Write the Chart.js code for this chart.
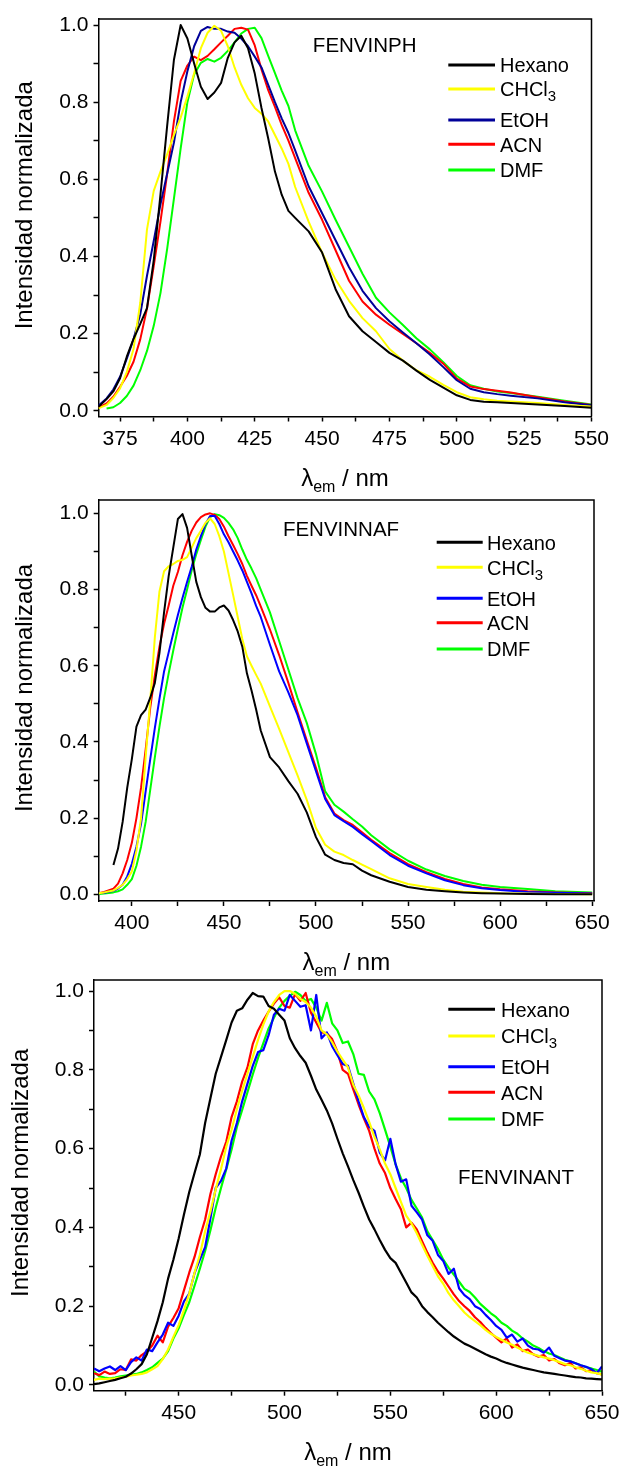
<!DOCTYPE html>
<html>
<head>
<meta charset="utf-8">
<script src="https://cdn.jsdelivr.net/npm/chart.js@4.4.1/dist/chart.umd.min.js"></script>
<style>
  html, body { margin: 0; padding: 0; background: #fff; }
  body { width: 621px; height: 1471px; position: relative; overflow: hidden; }
  canvas { position: absolute; left: 0; }
</style>
</head>
<body>
<canvas id="p1" width="621" height="500" style="top:0px"></canvas>
<canvas id="p2" width="621" height="490" style="top:490px"></canvas>
<canvas id="p3" width="621" height="496" style="top:975px"></canvas>
<script>
// ── Data ──────────────────────────────────────────────────────
const solvents  = ['Hexano', 'CHCl₃', 'EtOH', 'ACN', 'DMF'];
const compounds = ['FENVINPH', 'FENVINNAF', 'FENVINANT'];

const yMajor  = [0, 0.2, 0.4, 0.6, 0.8, 1.0];
const xMajor1 = [375, 400, 425, 450, 475, 500, 525, 550];
const xMajor2 = [400, 450, 500, 550, 600, 650];
const xMajor3 = [450, 500, 550, 600, 650];

// FENVINPH
const wl1 = [367, 370, 372.5, 375, 377.5, 380, 382.5, 385, 387.5, 390,
  392.5, 395, 397.5, 400, 402.5, 405, 407.5, 410, 412.5, 415,
  417.5, 420, 422.5, 425, 427.5, 430, 432.5, 435, 437.5, 440,
  445, 450, 455, 460, 465, 470, 475, 480, 485, 490,
  495, 500, 505, 510, 515, 520, 530, 540, 550];
const hex1 = [0.010, 0.030, 0.050, 0.084, 0.140, 0.186, 0.225, 0.266, 0.390, 0.560,
  0.740, 0.910, 1.000, 0.965, 0.900, 0.840, 0.808, 0.825, 0.850, 0.915,
  0.955, 0.972, 0.940, 0.874, 0.785, 0.706, 0.620, 0.560, 0.518, 0.500,
  0.465, 0.410, 0.315, 0.245, 0.206, 0.178, 0.150, 0.130, 0.104, 0.080,
  0.060, 0.040, 0.028, 0.023, 0.022, 0.020, 0.016, 0.012, 0.008];
const chcl1 = [0.006, 0.015, 0.033, 0.058, 0.100, 0.160, 0.280, 0.470, 0.570, 0.620,
  0.665, 0.715, 0.760, 0.815, 0.875, 0.940, 0.980, 0.998, 0.985, 0.945,
  0.890, 0.845, 0.810, 0.785, 0.770, 0.750, 0.715, 0.680, 0.640, 0.580,
  0.490, 0.410, 0.340, 0.285, 0.240, 0.206, 0.160, 0.130, 0.105, 0.088,
  0.067, 0.048, 0.035, 0.030, 0.026, 0.024, 0.020, 0.015, 0.011];
const etoh1 = [0.013, 0.032, 0.055, 0.088, 0.135, 0.185, 0.250, 0.350, 0.440, 0.535,
  0.615, 0.695, 0.800, 0.880, 0.945, 0.985, 0.995, 0.990, 0.990, 0.983,
  0.980, 0.965, 0.945, 0.918, 0.890, 0.845, 0.800, 0.758, 0.720, 0.675,
  0.582, 0.512, 0.442, 0.372, 0.311, 0.266, 0.232, 0.203, 0.175, 0.146,
  0.113, 0.079, 0.057, 0.048, 0.043, 0.039, 0.032, 0.022, 0.014];
const acn1 = [0.008, 0.019, 0.036, 0.062, 0.090, 0.127, 0.185, 0.265, 0.375, 0.490,
  0.615, 0.750, 0.855, 0.895, 0.918, 0.909, 0.920, 0.937, 0.955, 0.972,
  0.990, 0.993, 0.988, 0.947, 0.885, 0.831, 0.788, 0.741, 0.700, 0.655,
  0.565, 0.495, 0.416, 0.337, 0.283, 0.249, 0.223, 0.199, 0.175, 0.150,
  0.122, 0.083, 0.063, 0.056, 0.052, 0.047, 0.035, 0.024, 0.015];
const dmf1 = [null, 0.006, 0.009, 0.020, 0.038, 0.065, 0.105, 0.155, 0.220, 0.305,
  0.420, 0.550, 0.680, 0.800, 0.872, 0.902, 0.912, 0.905, 0.915, 0.933,
  0.955, 0.978, 0.990, 0.993, 0.966, 0.920, 0.875, 0.830, 0.790, 0.727,
  0.635, 0.568, 0.495, 0.425, 0.355, 0.293, 0.255, 0.222, 0.188, 0.159,
  0.126, 0.090, 0.066, 0.057, 0.050, 0.046, 0.036, 0.026, 0.016];

// FENVINNAF
const wl2 = [382, 385, 390, 392.5, 395, 397.5, 400, 402.5, 405, 407.5,
  410, 412.5, 415, 417.5, 420, 422.5, 425, 427.5, 430, 432.5,
  435, 437.5, 440, 442.5, 445, 447.5, 450, 452.5, 455, 457.5,
  460, 462.5, 465, 467.5, 470, 475, 480, 485, 490, 495,
  500, 505, 510, 515, 520, 525, 530, 540, 550, 560,
  570, 580, 590, 600, 615, 630, 650];
const hex2 = [null, null, 0.077, 0.120, 0.190, 0.280, 0.355, 0.440, 0.470, 0.485,
  0.516, 0.555, 0.634, 0.740, 0.835, 0.910, 0.985, 0.998, 0.962, 0.890,
  0.820, 0.780, 0.752, 0.742, 0.742, 0.753, 0.758, 0.745, 0.720, 0.690,
  0.650, 0.580, 0.535, 0.485, 0.430, 0.360, 0.333, 0.297, 0.264, 0.215,
  0.150, 0.104, 0.090, 0.082, 0.079, 0.062, 0.050, 0.033, 0.019, 0.012,
  0.008, 0.005, 0.003, 0.002, 0.001, 0.000, 0.000];
const chcl2 = [0.003, 0.005, 0.010, 0.017, 0.025, 0.040, 0.060, 0.115, 0.200, 0.360,
  0.510, 0.675, 0.795, 0.848, 0.861, 0.867, 0.875, 0.878, 0.885, 0.910,
  0.935, 0.954, 0.975, 0.987, 0.972, 0.940, 0.900, 0.843, 0.786, 0.728,
  0.670, 0.625, 0.600, 0.576, 0.553, 0.493, 0.434, 0.373, 0.312, 0.248,
  0.174, 0.130, 0.112, 0.103, 0.090, 0.078, 0.066, 0.042, 0.027, 0.019,
  0.012, 0.007, 0.005, 0.003, 0.002, 0.001, 0.000];
const etoh2 = [0.003, 0.004, 0.009, 0.015, 0.025, 0.047, 0.080, 0.125, 0.185, 0.270,
  0.355, 0.437, 0.513, 0.585, 0.635, 0.685, 0.733, 0.778, 0.820, 0.860,
  0.905, 0.940, 0.972, 0.993, 0.993, 0.972, 0.945, 0.924, 0.900, 0.876,
  0.850, 0.820, 0.790, 0.757, 0.728, 0.655, 0.585, 0.530, 0.470, 0.396,
  0.323, 0.250, 0.208, 0.192, 0.177, 0.158, 0.140, 0.103, 0.075, 0.055,
  0.037, 0.024, 0.016, 0.011, 0.006, 0.004, 0.002];
const acn2 = [0.003, 0.006, 0.015, 0.028, 0.055, 0.090, 0.135, 0.200, 0.280, 0.380,
  0.490, 0.575, 0.650, 0.710, 0.758, 0.810, 0.846, 0.890, 0.925, 0.954,
  0.976, 0.990, 0.997, 1.000, 0.996, 0.985, 0.965, 0.940, 0.917, 0.893,
  0.867, 0.836, 0.810, 0.785, 0.756, 0.695, 0.628, 0.555, 0.478, 0.404,
  0.332, 0.255, 0.212, 0.195, 0.182, 0.163, 0.143, 0.108, 0.079, 0.058,
  0.040, 0.027, 0.018, 0.013, 0.008, 0.005, 0.003];
const dmf2 = [0.001, 0.002, 0.005, 0.008, 0.013, 0.025, 0.040, 0.075, 0.125, 0.190,
  0.275, 0.360, 0.440, 0.515, 0.580, 0.640, 0.697, 0.752, 0.800, 0.850,
  0.893, 0.930, 0.965, 0.990, 0.998, 0.995, 0.988, 0.975, 0.958, 0.935,
  0.905, 0.878, 0.855, 0.830, 0.800, 0.740, 0.665, 0.590, 0.515, 0.450,
  0.368, 0.270, 0.235, 0.217, 0.197, 0.178, 0.155, 0.118, 0.088, 0.065,
  0.048, 0.035, 0.025, 0.019, 0.014, 0.008, 0.005];

// FENVINANT
const wl3 = [410, 412.5, 415, 417.5, 420, 422.5, 425, 427.5, 430, 432.5,
  435, 437.5, 440, 442.5, 445, 447.5, 450, 452.5, 455, 457.5,
  460, 462.5, 465, 467.5, 470, 472.5, 475, 477.5, 480, 482.5,
  485, 487.5, 490, 492.5, 495, 497.5, 500, 502.5, 505, 507.5,
  510, 512.5, 515, 517.5, 520, 522.5, 525, 527.5, 530, 532.5,
  535, 537.5, 540, 542.5, 545, 547.5, 550, 552.5, 555, 557.5,
  560, 562.5, 565, 567.5, 570, 572.5, 575, 577.5, 580, 582.5,
  585, 587.5, 590, 592.5, 595, 597.5, 600, 602.5, 605, 607.5,
  610, 612.5, 615, 617.5, 620, 622.5, 625, 627.5, 630, 632.5,
  635, 637.5, 640, 642.5, 645, 647.5, 650];
const hex3 = [0.002, 0.004, 0.007, 0.010, 0.013, 0.017, 0.021, 0.029, 0.040, 0.053,
  0.078, 0.120, 0.162, 0.210, 0.270, 0.318, 0.372, 0.433, 0.490, 0.538,
  0.585, 0.665, 0.728, 0.790, 0.833, 0.876, 0.920, 0.950, 0.956, 0.978,
  0.995, 0.987, 0.986, 0.962, 0.955, 0.940, 0.925, 0.880, 0.855, 0.835,
  0.818, 0.785, 0.750, 0.724, 0.697, 0.664, 0.625, 0.588, 0.555, 0.520,
  0.488, 0.453, 0.420, 0.395, 0.368, 0.343, 0.322, 0.310, 0.285, 0.260,
  0.235, 0.222, 0.200, 0.185, 0.172, 0.158, 0.146, 0.134, 0.123, 0.114,
  0.105, 0.099, 0.092, 0.085, 0.078, 0.072, 0.067, 0.061, 0.056, 0.052,
  0.048, 0.044, 0.041, 0.038, 0.035, 0.032, 0.030, 0.028, 0.026, 0.024,
  0.022, 0.020, 0.019, 0.017, 0.016, 0.015, 0.014];
const chcl3 = [0.013, 0.016, 0.015, 0.016, 0.017, 0.019, 0.021, 0.024, 0.026, 0.028,
  0.032, 0.040, 0.048, 0.066, 0.090, 0.122, 0.152, 0.190, 0.232, 0.285,
  0.330, 0.390, 0.440, 0.497, 0.548, 0.605, 0.648, 0.700, 0.747, 0.790,
  0.833, 0.876, 0.915, 0.948, 0.972, 0.990, 1.000, 1.000, 0.993, 0.980,
  0.972, 0.958, 0.935, 0.900, 0.890, 0.870, 0.846, 0.826, 0.806, 0.762,
  0.735, 0.703, 0.668, 0.630, 0.598, 0.562, 0.535, 0.500, 0.465, 0.430,
  0.410, 0.385, 0.356, 0.328, 0.302, 0.276, 0.257, 0.233, 0.215, 0.200,
  0.184, 0.172, 0.162, 0.152, 0.140, 0.130, 0.122, 0.115, 0.108, 0.102,
  0.095, 0.088, 0.082, 0.078, 0.074, 0.070, 0.067, 0.063, 0.058, 0.053,
  0.050, 0.045, 0.041, 0.036, 0.032, 0.030, 0.026];
const etoh3 = [0.042, 0.035, 0.042, 0.047, 0.038, 0.048, 0.038, 0.058, 0.070, 0.062,
  0.090, 0.086, 0.108, 0.128, 0.158, 0.150, 0.176, 0.212, 0.232, 0.284,
  0.318, 0.350, 0.423, 0.500, 0.518, 0.550, 0.620, 0.665, 0.720, 0.765,
  0.810, 0.845, 0.850, 0.888, 0.940, 0.955, 0.950, 0.990, 0.975, 0.960,
  0.964, 0.900, 0.990, 0.880, 0.895, 0.860, 0.837, 0.815, 0.810, 0.765,
  0.720, 0.680, 0.655, 0.645, 0.590, 0.570, 0.625, 0.560, 0.516, 0.522,
  0.455, 0.438, 0.420, 0.380, 0.366, 0.330, 0.315, 0.282, 0.295, 0.245,
  0.228, 0.218, 0.200, 0.193, 0.178, 0.165, 0.150, 0.140, 0.120, 0.128,
  0.110, 0.118, 0.100, 0.092, 0.090, 0.082, 0.095, 0.074, 0.068, 0.062,
  0.060, 0.055, 0.050, 0.046, 0.040, 0.030, 0.047];
const acn3 = [0.030, 0.025, 0.034, 0.028, 0.030, 0.040, 0.038, 0.065, 0.062, 0.076,
  0.085, 0.100, 0.125, 0.108, 0.148, 0.170, 0.195, 0.240, 0.285, 0.325,
  0.375, 0.420, 0.485, 0.535, 0.580, 0.618, 0.680, 0.720, 0.770, 0.806,
  0.865, 0.900, 0.925, 0.948, 0.968, 0.984, 0.962, 0.958, 0.992, 0.975,
  0.995, 0.945, 0.920, 0.895, 0.893, 0.878, 0.846, 0.800, 0.790, 0.750,
  0.712, 0.677, 0.645, 0.600, 0.562, 0.538, 0.500, 0.472, 0.446, 0.400,
  0.412, 0.395, 0.365, 0.336, 0.310, 0.288, 0.270, 0.250, 0.230, 0.213,
  0.200, 0.188, 0.172, 0.160, 0.145, 0.132, 0.120, 0.108, 0.118, 0.095,
  0.103, 0.086, 0.090, 0.078, 0.072, 0.076, 0.062, 0.066, 0.055, 0.050,
  0.056, 0.042, 0.045, 0.035, 0.038, 0.030, 0.027];
const dmf3 = [0.034, 0.022, 0.019, 0.017, 0.019, 0.022, 0.024, 0.026, 0.028, 0.032,
  0.038, 0.045, 0.056, 0.067, 0.086, 0.118, 0.144, 0.178, 0.210, 0.252,
  0.295, 0.340, 0.393, 0.450, 0.500, 0.548, 0.598, 0.655, 0.698, 0.743,
  0.788, 0.830, 0.868, 0.905, 0.932, 0.958, 0.975, 0.988, 0.998, 0.990,
  0.975, 0.980, 0.958, 0.925, 0.970, 0.918, 0.900, 0.868, 0.872, 0.840,
  0.790, 0.787, 0.745, 0.725, 0.690, 0.648, 0.605, 0.560, 0.525, 0.500,
  0.470, 0.448, 0.425, 0.390, 0.368, 0.345, 0.318, 0.298, 0.280, 0.262,
  0.244, 0.236, 0.222, 0.206, 0.194, 0.182, 0.172, 0.158, 0.150, 0.138,
  0.130, 0.118, 0.110, 0.100, 0.094, 0.086, 0.080, 0.076, 0.070, 0.064,
  0.060, 0.055, 0.050, 0.045, 0.042, 0.038, 0.034];

// ── Styles / layout ───────────────────────────────────────────
const FONT = "'Liberation Sans', Arial, sans-serif";
const colorsA = ['#000000', '#FFFF00', '#000099', '#FF0000', '#00FF00'];
const colorsB = ['#000000', '#FFFF00', '#0000FF', '#FF0000', '#00FF00'];

const panels = [
  {
    id: 'p1', name: compounds[0], wl: wl1, series: [hex1, chcl1, etoh1, acn1, dmf1], colors: colorsA,
    xMin: 367, xMax: 550, xStep: 12.5, xMajor: xMajor1, yMin: -0.015, yMax: 1.0156,
    height: 500, area: { left: 98.5, right: 591.5, top: 19, bottom: 416.5 },
    label: { x: 364.7, y: 44.2 },
    legend: { x0: 448.3, x1: 495, tx: 500, rows: [65, 89, 120, 144.3, 170] },
    lw: 2,
  },
  {
    id: 'p2', name: compounds[1], wl: wl2, series: [hex2, chcl2, etoh2, acn2, dmf2], colors: colorsB,
    xMin: 382, xMax: 651, xStep: 25, xMajor: xMajor2, yMin: -0.0176, yMax: 1.035,
    height: 490, area: { left: 98.7, right: 594, top: 10, bottom: 411 },
    label: { x: 341, y: 38.3 },
    legend: { x0: 436.7, x1: 482.7, tx: 487, rows: [52.3, 77.3, 108.3, 132.7, 159] },
    lw: 2,
  },
  {
    id: 'p3', name: compounds[2], wl: wl3, series: [hex3, chcl3, etoh3, acn3, dmf3], colors: colorsB,
    xMin: 410, xMax: 650, xStep: 25, xMajor: xMajor3, yMin: -0.0145, yMax: 1.028,
    height: 496, area: { left: 94, right: 602, top: 5, bottom: 415.7 },
    label: { x: 516, y: 201.3 },
    legend: { x0: 448.3, x1: 495, tx: 501, rows: [34.3, 61, 91.7, 117.3, 144] },
    lw: 2.2,
  },
];

// ── Text helpers (subscripts) ─────────────────────────────────
const SUB = '₀₁₂₃₄₅₆₇₈₉';

const toRuns = (text) => {
  const runs = [];
  for (const ch of text) {
    const i = SUB.indexOf(ch);
    const sub = i >= 0;
    const c = sub ? String(i) : ch;
    const last = runs[runs.length - 1];
    if (last && last.sub === sub) last.t += c;
    else runs.push({ t: c, sub });
  }
  return runs;
};

const drawRuns = (ctx, runs, x, y) => {
  runs.forEach(r => {
    ctx.font = `${r.size}px ${FONT}`;
    ctx.fillText(r.t, x, y + r.dy);
    x += ctx.measureText(r.t).width;
  });
};

const runsWidth = (ctx, runs) => runs.reduce((w, r) => {
  ctx.font = `${r.size}px ${FONT}`;
  return w + ctx.measureText(r.t).width;
}, 0);

// ── Decoration plugin: frame, legend, labels, axis titles ─────
const decor = {
  id: 'decor',
  afterDraw(chart, args, o) {
    const { ctx, chartArea: a } = chart;
    const p = o.panel;
    ctx.save();

    // closing frame (top + right)
    ctx.strokeStyle = '#000';
    ctx.lineWidth = 1.5;
    ctx.beginPath();
    ctx.moveTo(a.left, a.top);
    ctx.lineTo(a.right, a.top);
    ctx.lineTo(a.right, a.bottom);
    ctx.stroke();

    ctx.fillStyle = '#000';
    ctx.textBaseline = 'alphabetic';

    // compound name
    ctx.font = `20.5px ${FONT}`;
    ctx.textAlign = 'center';
    ctx.fillText(p.name, p.label.x, p.label.y + 7.3);

    // legend
    ctx.textAlign = 'left';
    chart.data.datasets.forEach((ds, i) => {
      const y = p.legend.rows[i];
      ctx.strokeStyle = ds.borderColor;
      ctx.lineWidth = 3;
      ctx.beginPath();
      ctx.moveTo(p.legend.x0, y);
      ctx.lineTo(p.legend.x1, y);
      ctx.stroke();
      const runs = toRuns(ds.label).map(r => ({ t: r.t, size: r.sub ? 15 : 20, dy: r.sub ? 5 : 0 }));
      drawRuns(ctx, runs, p.legend.tx, y + 7.2);
    });

    // x axis title: λem / nm
    const xr = [
      { t: 'λ', size: 24, dy: 0 },
      { t: 'em', size: 16, dy: 6 },
      { t: ' / nm', size: 24, dy: 0 },
    ];
    const cx = (a.left + a.right) / 2;
    drawRuns(ctx, xr, cx - runsWidth(ctx, xr) / 2, a.bottom + 69);

    // y axis title
    ctx.translate(a.left - 73, (a.top + a.bottom) / 2 - 12.5);
    ctx.rotate(-Math.PI / 2);
    ctx.font = `24px ${FONT}`;
    ctx.textAlign = 'center';
    ctx.textBaseline = 'middle';
    ctx.fillText('Intensidad normalizada', 0, 0);

    ctx.restore();
  }
};

// ── Build charts ──────────────────────────────────────────────
Chart.defaults.font.family = FONT;
Chart.defaults.color = '#000';

panels.forEach(p => {
  const datasets = p.series.map((vals, i) => ({
    label: solvents[i],
    data: p.wl.map((x, k) => ({ x, y: vals[k] })).filter(pt => pt.y !== null),
    borderColor: p.colors[i],
    backgroundColor: p.colors[i],
    borderWidth: p.lw,
    pointRadius: 0,
    tension: 0,
    fill: false,
    borderJoinStyle: 'round',
  }));

  const isMajor = (list, v) => list.some(m => Math.abs(m - v) < 1e-6);

  new Chart(document.getElementById(p.id), {
    type: 'line',
    data: { datasets },
    options: {
      responsive: false,
      animation: false,
      events: [],
      layout: { padding: { left: 0, top: p.area.top, right: 621 - p.area.right, bottom: 0 } },
      plugins: {
        legend: { display: false },
        tooltip: { enabled: false },
        decor: { panel: p },
      },
      scales: {
        x: {
          type: 'linear',
          min: p.xMin,
          max: p.xMax,
          grid: { display: true, drawOnChartArea: false, drawTicks: true, tickLength: 5, tickColor: '#000', tickWidth: 1.5 },
          border: { display: true, color: '#000', width: 1.5 },
          ticks: {
            stepSize: p.xStep,
            includeBounds: false,
            autoSkip: false,
            maxRotation: 0,
            minRotation: 0,
            padding: 5,
            font: { size: 21 },
            callback: (v) => isMajor(p.xMajor, v) ? String(v) : '',
          },
          afterFit: (s) => { s.height = p.height - p.area.bottom; s.paddingLeft = 0; s.paddingRight = 0; },
        },
        y: {
          min: p.yMin,
          max: p.yMax,
          grid: { display: true, drawOnChartArea: false, drawTicks: true, tickLength: 5, tickColor: '#000', tickWidth: 1.5 },
          border: { display: true, color: '#000', width: 1.5 },
          ticks: {
            stepSize: 0.1,
            includeBounds: false,
            autoSkip: false,
            padding: 5,
            font: { size: 21 },
            callback: (v) => isMajor(yMajor, v) ? v.toFixed(1) : '',
          },
          afterFit: (s) => { s.width = p.area.left; s.paddingTop = 0; s.paddingBottom = 0; },
        },
      },
    },
    plugins: [decor],
  });
});
</script>
</body>
</html>
